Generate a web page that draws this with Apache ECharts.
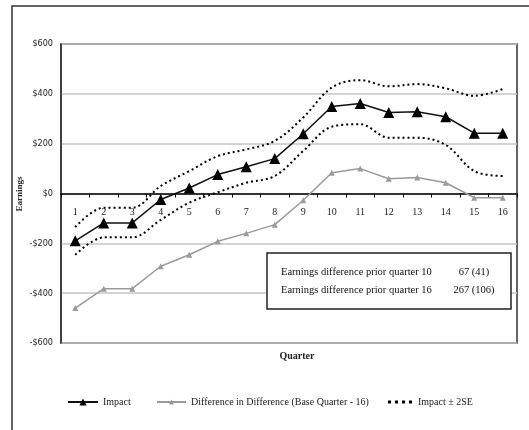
<!DOCTYPE html>
<html>
<head>
<meta charset="utf-8">
<script src="https://cdn.jsdelivr.net/npm/echarts@6/dist/echarts.min.js"></script>
<style>
  html, body { margin: 0; padding: 0; background: #fff; }
  #chart { width: 529px; height: 430px; }
</style>
</head>
<body>
<div id="chart"></div>
<script>
// Quarters on the horizontal axis
const quarters = ['1','2','3','4','5','6','7','8','9','10','11','12','13','14','15','16'];

// Estimated earnings impact by quarter
const impact = [-190, -118, -118, -24, 22, 76, 107, 140, 240, 349, 361, 325, 328, 308, 242, 242];

// Difference in difference relative to base quarter 16
const diffInDiff = [-460, -382, -382, -292, -246, -192, -160, -125, -27, 83, 100, 59, 64, 43, -17, -17];

// Confidence band: impact plus / minus two standard errors
const upperBand = [-135, -57, -57, 30, 90, 150, 177, 211, 305, 425, 455, 430, 439, 422, 392, 419];
const lowerBand = [-246, -176, -176, -106, -37, 5, 43, 70, 171, 268, 278, 224, 224, 195, 90, 70];

// Summary rows shown in the inset box
const summaryLabels = ['Earnings difference prior quarter 10', 'Earnings difference prior quarter 16'];
const summaryValues = ['67 (41)', '267 (106)'];

const serif = '"Liberation Serif", "Times New Roman", serif';
const narrow = '"DejaVu Sans Condensed", "DejaVu Sans", sans-serif';

const gridTop = 44, gridBottom = 87, chartH = 430;
// the quarter axis sits on the $0 line, halfway down a symmetric value range
const zeroOffset = -(chartH - gridTop - gridBottom) / 2;

const chart = echarts.init(document.getElementById('chart'), null, { renderer: 'canvas' });

const bandLine = { color: '#000', width: 2, type: [2, 3] };
const dottedIcon = 'path://M0,0h3v3h-3zM7,0h3v3h-3zM14,0h3v3h-3zM21,0h3v3h-3z';

chart.setOption({
  animation: false,
  backgroundColor: '#fff',
  grid: {
    left: 61, top: gridTop, right: 12, bottom: gridBottom,
    show: true, borderColor: '#333', borderWidth: 1.5, backgroundColor: 'transparent'
  },
  legend: [
    {
      data: ['Impact'], left: 62, top: 392, itemWidth: 30, itemHeight: 9, itemGap: 2,
      textStyle: { fontFamily: serif, fontSize: 10, color: '#222' }
    },
    {
      data: ['Difference in Difference (Base Quarter - 16)'], left: 151, top: 392, itemWidth: 29, itemHeight: 6,
      textStyle: { fontFamily: serif, fontSize: 10, color: '#222' }
    },
    {
      data: [{ name: 'Impact \u00b1 2SE', icon: dottedIcon }], left: 383, top: 392, itemWidth: 26, itemHeight: 3,
      textStyle: { fontFamily: serif, fontSize: 10, color: '#222' }
    }
  ],
  xAxis: {
    type: 'category',
    data: quarters,
    boundaryGap: true,
    position: 'bottom',
    offset: zeroOffset,
    axisLine: { onZero: false, lineStyle: { color: '#000', width: 1.5 } },
    axisTick: { show: true, inside: false, length: 4, lineStyle: { color: '#000' } },
    axisLabel: { fontFamily: serif, fontSize: 10, color: '#222', margin: 14 },
    splitLine: { show: false }
  },
  yAxis: {
    type: 'value',
    min: -600, max: 600, interval: 200,
    axisLine: { show: true, lineStyle: { color: '#333', width: 1.5 } },
    axisTick: { show: false },
    axisLabel: {
      fontFamily: narrow, fontSize: 9, color: '#222', margin: 8,
      formatter: v => (v < 0 ? '-$' + Math.abs(v) : '$' + v)
    },
    splitLine: { show: true, lineStyle: { color: '#c4c4c4', width: 1.5 } }
  },
  series: [
    {
      name: 'Impact \u00b1 2SE', type: 'line', data: upperBand, smooth: 0.35,
      symbol: 'none', lineStyle: bandLine, itemStyle: { color: '#000' }, z: 2
    },
    {
      name: 'Impact \u00b1 2SE', type: 'line', data: lowerBand, smooth: 0.35,
      symbol: 'none', lineStyle: bandLine, itemStyle: { color: '#000' }, z: 2
    },
    {
      name: 'Difference in Difference (Base Quarter - 16)', type: 'line', data: diffInDiff,
      symbol: 'triangle', symbolSize: 6, lineStyle: { color: '#9a9a9a', width: 1.5 },
      itemStyle: { color: '#9a9a9a' }, z: 3
    },
    {
      name: 'Impact', type: 'line', data: impact,
      symbol: 'triangle', symbolSize: 11, lineStyle: { color: '#111', width: 1.5 },
      itemStyle: { color: '#000' }, z: 4
    }
  ],
  graphic: [
    // outer frame
    {
      type: 'polyline', silent: true,
      shape: { points: [[12, 430], [12, 6], [529, 6]] },
      style: { stroke: '#333', lineWidth: 1.5, fill: null }
    },
    // value axis title
    {
      type: 'text', silent: true, x: 20, y: 194, rotation: Math.PI / 2,
      style: { text: 'Earnings', font: 'bold 9px ' + serif, fill: '#222', align: 'center', verticalAlign: 'middle' }
    },
    // quarter axis title
    {
      type: 'text', silent: true, x: 297, y: 356,
      style: { text: 'Quarter', font: 'bold 10px ' + serif, fill: '#222', align: 'center', verticalAlign: 'middle' }
    },
    // inset summary box
    {
      type: 'rect', silent: true, z: 10,
      shape: { x: 267, y: 253, width: 244, height: 56 },
      style: { fill: '#fff', stroke: '#222', lineWidth: 1.5 }
    },
    {
      type: 'text', silent: true, z: 11,
      style: { x: 281, y: 272, text: summaryLabels[0], font: '10.5px ' + serif, fill: '#111', verticalAlign: 'middle' }
    },
    {
      type: 'text', silent: true, z: 11,
      style: { x: 281, y: 290, text: summaryLabels[1], font: '10.5px ' + serif, fill: '#111', verticalAlign: 'middle' }
    },
    {
      type: 'text', silent: true, z: 11,
      style: { x: 474, y: 272, text: summaryValues[0], font: '10.5px ' + serif, fill: '#111', align: 'center', verticalAlign: 'middle' }
    },
    {
      type: 'text', silent: true, z: 11,
      style: { x: 474, y: 290, text: summaryValues[1], font: '10.5px ' + serif, fill: '#111', align: 'center', verticalAlign: 'middle' }
    }
  ]
});
</script>
</body>
</html>
